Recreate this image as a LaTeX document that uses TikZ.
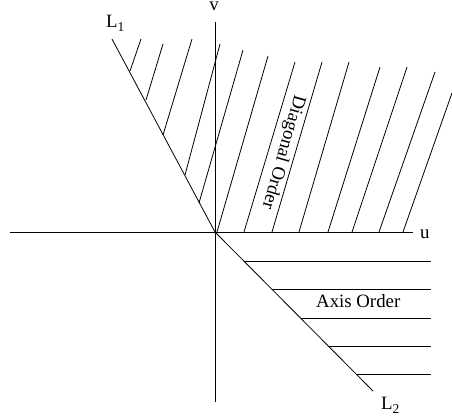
\documentclass[tikz,border=0pt]{standalone}
\usepackage{fontspec}
\setmainfont{Liberation Serif}
\newcommand{\lsub}[1]{\raisebox{-0.22em}{\fontsize{13.5}{14}\selectfont #1}}
\begin{document}
\begin{tikzpicture}[x=1pt,y=-1pt,
  ln/.style={line width=0.8pt,black},
  lbl/.style={inner sep=0pt,font=\fontsize{18.8}{20}\selectfont}]
\useasboundingbox (0,0) rectangle (452,416);
\coordinate (O) at (215,232);
% axes
\coordinate (uL) at (10,232);
\coordinate (uR) at (413,232);
\coordinate (vT) at (215,22);
\coordinate (vB) at (215,402);
\draw[ln] (uL) -- (uR);
\draw[ln] (vT) -- (vB);
% boundary lines
\coordinate (L1end) at (112,39);
\coordinate (L2end) at (373,391);
\draw[ln] (L1end) -- (O);
\draw[ln] (O) -- (L2end);
% diagonal hatching
\foreach \xa/\ya/\xb/\yb in {141/39/130/71, 163/44/146/100, 192/39/163/135,
  220/44/185/175, 243/50/199/203, 268/56/217/232, 295/62/244/232,
  322/62/272/232, 349/62/299/232, 380/67/328/232, 407/67/352/232,
  435/72/379/232, 452/93/403/232}
  \draw[ln] (\xa,\ya) -- (\xb,\yb);
% axis hatching
\foreach \y/\x in {261/243.8,289/271.6,318/300.5,346/328.3,374/356.1}
  \draw[ln] (\x,\y) -- (431,\y);
% labels
\node[lbl,anchor=base] (v) at (214,10) {v};
\node[lbl,anchor=base west] (u) at (420,238) {u};
\node[lbl,anchor=base west] (l1) at (106,27) {L\lsub{1}};
\node[lbl,anchor=base west] (l2) at (381,409) {L\lsub{2}};
\node[lbl,anchor=base west] (ax) at (316,307) {Axis Order};
\node[lbl,rotate=-106] (dg) at (283,152) {Diagonal Order};
\end{tikzpicture}
\end{document}
